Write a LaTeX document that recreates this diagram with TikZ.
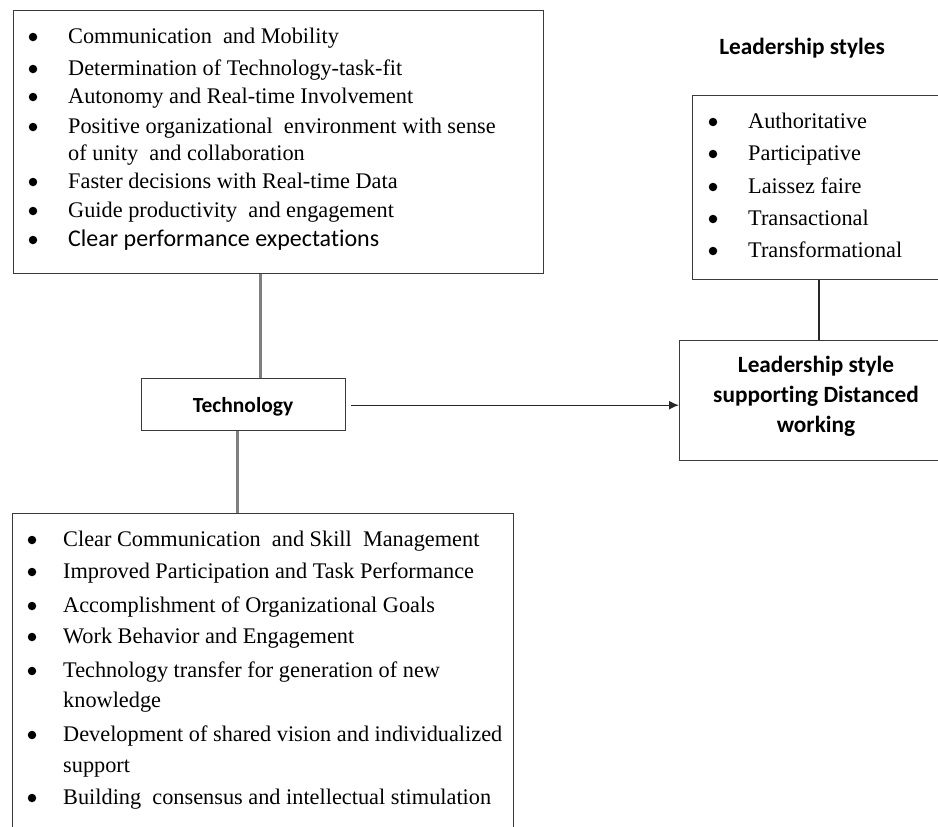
\documentclass[tikz,border=0pt]{standalone}
\usepackage{fontspec}
\setmainfont{Liberation Serif}
\newfontfamily\calfont[Ligatures=NoCommon]{Carlito}
\usetikzlibrary{arrows.meta}
\definecolor{boxline}{HTML}{3A3A3A}
\definecolor{conngray}{HTML}{7F7F7F}
\tikzset{
  x=1pt, y=-1pt,
  boxnode/.style={draw=boxline, line width=1.4pt, rectangle, inner sep=0pt, anchor=north west},
  txt/.style={anchor=base west, inner sep=0pt, font=\fontsize{22.3}{26}\selectfont},
  bul/.style={circle, fill=black, draw=none, inner sep=0pt, minimum size=8.5pt},
  boldtxt/.style={inner sep=0pt, font=\calfont\bfseries\fontsize{23.3}{30}\selectfont},
  grayconn/.style={draw=conngray, line width=2.5pt},
  darkconn/.style={draw=black!85, line width=1.4pt},
}
\begin{document}
\begin{tikzpicture}
\useasboundingbox (0,0) rectangle (938,827);
\clip (0,0) rectangle (938,827);

% boxes
\node[boxnode, minimum width=530pt, minimum height=263pt] (top) at (13,10) {};
\node[boxnode, minimum width=204pt, minimum height=52pt] (tech) at (141,378) {};
\node[boxnode, minimum width=300pt, minimum height=184pt] (list) at (692,95) {};
\node[boxnode, minimum width=274pt, minimum height=120pt] (lead) at (679,340) {};
\node[boxnode, minimum width=501pt, minimum height=360pt] (bot) at (12,513) {};

% top box text
\node[bul] (tb1) at (33,37) {};
\node[txt] (tt1) at (68,43) {Communication\ \ and Mobility};
\node[bul] (tb2) at (33,69) {};
\node[txt] (tt2) at (68,75) {Determination of Technology-task-fit};
\node[bul] (tb3) at (33,97) {};
\node[txt] (tt3) at (68,103) {Autonomy and Real-time\ Involvement};
\node[bul] (tb4) at (33,127) {};
\node[txt] (tt4) at (68,133) {Positive\ organizational\ \ environment with sense};
\node[txt] (tt4b) at (68,160) {of unity\ \ and collaboration};
\node[bul] (tb5) at (33,182) {};
\node[txt] (tt5) at (68,188) {Faster decisions with Real-time Data};
\node[bul] (tb6) at (33,211) {};
\node[txt] (tt6) at (68,217) {Guide productivity\ \ and engagement};
\node[bul] (tb7) at (33,240) {};
\node[txt, font=\calfont\fontsize{24}{26}\selectfont] (tt7) at (68,246) {Clear performance expectations};

% technology
\node[boldtxt, anchor=base, font=\calfont\bfseries\fontsize{21.5}{30}\selectfont] (techtxt) at (243,412) {Technology};

% leadership styles
\node[boldtxt, anchor=base] (lstitle) at (802,54) {Leadership styles};
\node[bul] (lb1) at (713,122) {};
\node[txt] (lt1) at (748,128) {Authoritative};
\node[bul] (lb2) at (713,154) {};
\node[txt] (lt2) at (748,160) {Participative};
\node[bul] (lb3) at (713,187) {};
\node[txt] (lt3) at (748,193) {Laissez faire};
\node[bul] (lb4) at (713,219) {};
\node[txt] (lt4) at (748,225) {Transactional};
\node[bul] (lb5) at (713,251) {};
\node[txt] (lt5) at (748,257) {Transformational};

% leadership box text
\node[boldtxt, anchor=base] (ld1) at (816,372) {Leadership style};
\node[boldtxt, anchor=base] (ld2) at (816,402) {supporting Distanced};
\node[boldtxt, anchor=base] (ld3) at (816,432) {working};

% bottom box text
\node[bul] (bb1) at (32,540) {};
\node[txt] (bt1) at (63,546) {Clear Communication\ \ and Skill\ \ Management};
\node[bul] (bb2) at (32,572) {};
\node[txt] (bt2) at (63,578) {Improved\ Participation\ and Task Performance};
\node[bul] (bb3) at (32,606) {};
\node[txt] (bt3) at (63,612) {Accomplishment\ of Organizational\ Goals};
\node[bul] (bb4) at (32,637) {};
\node[txt] (bt4) at (63,643) {Work Behavior\ and Engagement};
\node[bul] (bb5) at (32,671) {};
\node[txt] (bt5) at (63,677) {Technology\ transfer for generation of new};
\node[txt] (bt5b) at (63,707) {knowledge};
\node[bul] (bb6) at (32,735) {};
\node[txt] (bt6) at (63,741) {Development\ of shared vision\ and individualized};
\node[txt] (bt6b) at (63,772) {support};
\node[bul] (bb7) at (32,798) {};
\node[txt] (bt7) at (63,804) {Building\ \ consensus and intellectual\ stimulation};

% connectors
\draw[grayconn] ([xshift=17pt]tech.north) -- ([xshift=17pt]tech.north |- top.south);
\draw[grayconn] ([xshift=-6pt]tech.south) -- ([xshift=-6pt]tech.south |- bot.north);
\draw[darkconn, -{Latex[length=10pt,width=9pt]}] ([xshift=5pt,yshift=-0.5pt]tech.east) -- ([yshift=-0.5pt]tech.east -| lead.west);
\draw[darkconn] (lead.north -| 819,0) -- (list.south -| 819,0);
\end{tikzpicture}
\end{document}
